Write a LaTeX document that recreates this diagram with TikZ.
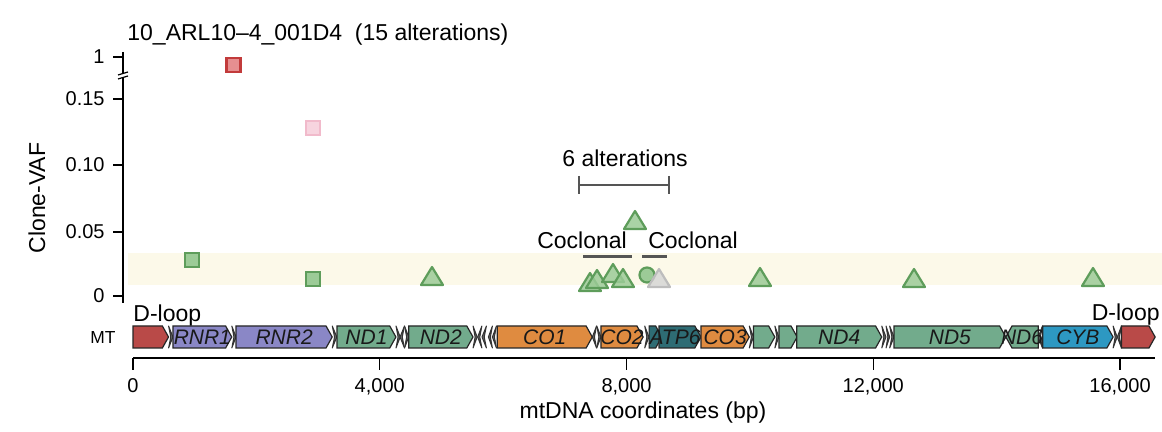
\documentclass[tikz,border=0pt]{standalone}
\usepackage{fontspec}
\setmainfont{Liberation Sans}
\usepackage{xcolor}

\definecolor{dloop}{HTML}{B94A48}
\definecolor{rrna}{HTML}{8A87C6}
\definecolor{ndgene}{HTML}{72AB8C}
\definecolor{cogene}{HTML}{DF8B40}
\definecolor{atpgene}{HTML}{2E6C74}
\definecolor{cybgene}{HTML}{2D98C2}
\definecolor{trna}{HTML}{6A6A6A}
\definecolor{band}{HTML}{FCF9E9}
\definecolor{mkgreen}{HTML}{9CCB97}
\definecolor{mkgreenline}{HTML}{5E9D5B}
\definecolor{mkred}{HTML}{E68F90}
\definecolor{mkredline}{HTML}{C23B3B}
\definecolor{mkpink}{HTML}{F7D4DF}
\definecolor{mkpinkline}{HTML}{F1BACB}
\definecolor{mkgrey}{HTML}{D6D6D6}
\definecolor{mkgreyline}{HTML}{BDBDBD}
\definecolor{barclr}{HTML}{555555}

\begin{document}
\begin{tikzpicture}[x=0.5pt,y=-0.5pt,
  every node/.style={inner sep=0pt},
  lbl/.style={font=\fontsize{11.5}{13}\selectfont},
  ticklbl/.style={font=\fontsize{10}{12}\selectfont},
  genelbl/.style={font=\fontsize{10.5}{12}\selectfont\itshape,text=black!90},
  genebox/.style={draw=black!85,line width=0.6pt},
  trnabox/.style={draw=black!80,fill=trna,line width=0.5pt,line join=round},
  axisline/.style={line width=0.6pt},
  barline/.style={draw=barclr,line width=1.3pt},
  sqmark/.style={line width=1.1pt},
  trimark/.style={draw=mkgreenline,fill=mkgreen,fill opacity=0.85,line width=1.1pt,line join=round}]
\useasboundingbox[fill=white] (0,0) rectangle (1162,432);

% title
\node[lbl,anchor=base west] (title) at (127,41) {10\_ARL10–4\_001D4\ \ (15 alterations)};

% clone-VAF band
\fill[band] (128,253) rectangle (1162,285);

% y axis with break
\draw[axisline] (123,52) -- (123,303);
\draw[axisline,draw=white,line width=2pt] (123,74) -- (123,78);
\draw[axisline] (118,75) -- (128,72);
\draw[axisline] (118,79) -- (128,76);
\foreach \y/\v in {296/0,232/0.05,165/0.10,99/0.15,57/1}{
  \draw[axisline] (113,\y) -- (123,\y);
  \node[ticklbl,anchor=east] (ytick\v) at (105,\y) {\v};
}
\node[lbl,rotate=90] (ylab) at (37,198) {Clone-VAF};

% 6 alterations bracket
\coordinate (brL) at (579,185);
\coordinate (brR) at (669,185);
\draw[barline] (brL) -- (brR);
\draw[barline] (579,176) -- (579,194) (669,176) -- (669,194);
\node[lbl,anchor=base] (six) at (625,167) {6 alterations};

% coclonal groups
\node[lbl,anchor=base] (cocA) at (582,249) {Coclonal};
\node[lbl,anchor=base] (cocB) at (693,249) {Coclonal};
\coordinate (cAl) at (583,257);
\coordinate (cAr) at (632,257);
\coordinate (cBl) at (642,257);
\coordinate (cBr) at (667,257);
\draw[barline,line width=1.5pt] (cAl) -- (cAr);
\draw[barline,line width=1.5pt] (cBl) -- (cBr);

% squares
\draw[sqmark,draw=mkredline,fill=mkred] (233.5,65) ++(-7,-7) rectangle ++(14,14);
\draw[sqmark,draw=mkpinkline,fill=mkpink] (313,128) ++(-7,-7) rectangle ++(14,14);
\foreach \x/\y in {192/260,313/279}{
  \draw[sqmark,draw=mkgreenline,fill=mkgreen] (\x,\y) ++(-7,-7) rectangle ++(14,14);
}

% triangles
\foreach \x/\y in {432/276,590/282,597/279,613/273,623/278,635/220,760/277,914/278,1093/277}{
  \draw[trimark] (\x,\y) ++(-11,9) -- ++(22,0) -- ++(-11,-18) -- cycle;
}
\draw[sqmark,draw=mkgreenline,fill=mkgreen] (647,275) circle (7.5);
\draw[trimark,draw=mkgreyline,fill=mkgrey] (659,278) ++(-11,9) -- ++(22,0) -- ++(-11,-18) -- cycle;

% genome track
\node[font=\fontsize{8.7}{10}\selectfont,anchor=east] (mt) at (116,338) {MT};
\node[lbl,anchor=base west] (dloopL) at (133,322) {D-loop};
\node[lbl,anchor=base east] (dloopR) at (1160,321) {D-loop};

% positions in kb from here on
\begin{scope}[shift={(133,0)},x=30.845pt]
% tRNAs
\foreach \s/\e/\d in {0.577/0.647/1,1.602/1.670/1,3.230/3.304/1,4.263/4.331/1,4.329/4.400/-1,
  4.402/4.469/1,5.512/5.579/1,5.587/5.655/-1,5.657/5.729/-1,5.761/5.826/-1,5.826/5.891/-1,
  7.446/7.514/-1,7.518/7.585/1,8.295/8.364/1,9.991/10.058/1,10.405/10.469/1,12.138/12.206/1,
  12.207/12.265/1,12.266/12.336/1,14.674/14.742/-1,15.888/15.953/1,15.956/16.023/-1}{
  \pgfmathsetmacro\a{\d>0 ? \s : \e}
  \pgfmathsetmacro\b{\d>0 ? \e : \s}
  \pgfmathsetmacro\k{\a+\d*(\e-\s)/2}
  \filldraw[trnabox] (\a,326) -- (\b,337) -- (\a,348) -- (\k,337) -- cycle;
}
% unlabelled genes
\foreach \s/\e/\d/\c in {0/0.576/1/dloop,8.366/8.572/1/atpgene,10.059/10.404/1/ndgene,
  10.470/10.766/1/ndgene,16.024/16.569/1/dloop}{
  \pgfmathsetmacro\t{min(0.1,\e-\s)}
  \pgfmathsetmacro\a{\d>0 ? \s : \e}
  \pgfmathsetmacro\b{\d>0 ? \e : \s}
  \pgfmathsetmacro\k{\b-\d*\t}
  \filldraw[genebox,fill=\c] (\a,326) -- (\k,326) -- (\b,337) -- (\k,348) -- (\a,348) -- cycle;
}
% labelled genes (last field: label centre)
\foreach \s/\e/\d/\c/\g/\m in {0.648/1.601/1/rrna/RNR1/1.124,1.671/3.229/1/rrna/RNR2/2.450,
  3.307/4.262/1/ndgene/ND1/3.784,4.470/5.511/1/ndgene/ND2/4.990,5.904/7.445/1/cogene/CO1/6.674,
  7.586/8.269/1/cogene/CO2/7.927,8.527/9.207/1/atpgene/ATP6/8.786,9.207/9.990/1/cogene/CO3/9.598,
  10.760/12.137/1/ndgene/ND4/11.448,12.337/14.148/1/ndgene/ND5/13.242,14.149/14.673/-1/ndgene/ND6/14.411,
  14.747/15.887/1/cybgene/CYB/15.317}{
  \pgfmathsetmacro\t{min(0.1,\e-\s)}
  \pgfmathsetmacro\a{\d>0 ? \s : \e}
  \pgfmathsetmacro\b{\d>0 ? \e : \s}
  \pgfmathsetmacro\k{\b-\d*\t}
  \filldraw[genebox,fill=\c] (\a,326) -- (\k,326) -- (\b,337) -- (\k,348) -- (\a,348) -- cycle;
  \node[genelbl] (\g) at (\m,337) {\g};
}

% x axis
\draw[axisline] (0,358) -- (16.569,358);
\foreach \v/\t in {0/0,4/{4,000},8/{8,000},12/{12,000},16/{16,000}}{
  \draw[axisline] (\v,358) -- (\v,370);
  \node[ticklbl,anchor=base] (xtick\v) at (\v,393) {\t};
}
\end{scope}
\node[lbl,anchor=base] (xlab) at (643,419) {mtDNA coordinates (bp)};

\end{tikzpicture}
\end{document}
